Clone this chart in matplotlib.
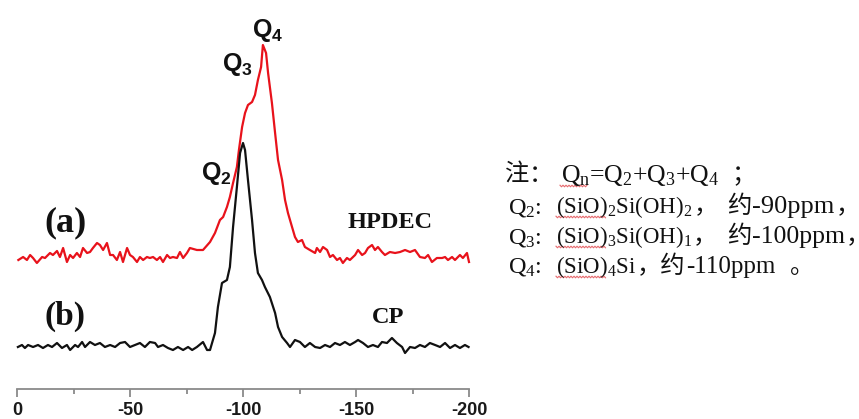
import matplotlib
matplotlib.use("Agg")
import matplotlib.pyplot as plt
from matplotlib.lines import Line2D
import numpy as np

plt.rcParams["mathtext.fontset"] = "custom"
plt.rcParams["mathtext.rm"] = "Liberation Serif"
plt.rcParams["mathtext.bf"] = "Liberation Sans:bold"
plt.rcParams["mathtext.default"] = "rm"

# 29Si NMR spectra, chemical shift in ppm
hpdec_ppm = [-0.6, -2.7, -4.4, -5.8, -7.1, -8.8, -11.1, -12.4, -14.6, -15.9, -17.7, -19.0,
             -20.4, -22.1, -23.5, -24.8, -26.5, -27.9, -29.2, -31.0, -32.3, -33.6, -35.4,
             -36.7, -38.1, -39.8, -41.2, -42.5, -44.2, -45.6, -46.9, -48.7, -50.0, -51.3,
             -53.1, -54.4, -55.8, -57.5, -58.8, -60.2, -61.9, -63.3, -64.6, -66.4, -67.7,
             -69.0, -70.8, -72.1, -73.5, -75.2,
             -76.5, -79.6, -82.3, -85.4, -87.6, -89.8, -91.2, -92.9, -94.2, -95.6, -97.3,
             -98.2, -99.6, -100.9, -102.2, -104.0, -105.3, -106.6, -108.0, -108.8, -110.2,
             -111.1, -112.8, -114.2, -115.5, -117.3, -118.6, -119.9, -121.7, -123.0, -124.3,
             -126.1, -127.4, -129.6, -131.9,
             -132.7, -134.1, -135.4, -137.2, -138.5, -139.8, -141.6, -142.9, -144.2, -146.0,
             -147.3, -149.6, -150.9, -152.7, -154.0, -155.3, -157.1, -158.4, -159.7, -161.5,
             -162.8, -165.0, -167.3, -169.5, -171.7, -173.9, -176.1, -178.3, -180.5, -181.9,
             -183.6, -185.8, -188.1, -189.4, -190.7, -192.5, -193.8, -196.0, -197.3, -199.1,
             -200.0]
hpdec_int = [0, 3, 0, 5, 2, -3, 3, 2, 7, 5, 9, 3,
             12, -2, 5, 2, 7, 3, 12, 7, 8, 12, 17,
             15, 10, 17, 5, 5, 0, 8, -2, 12, 5, 3,
             -2, 3, 0, 3, 2, 3, 0, 3, -2, 5, 2,
             3, 2, 8, 2, 7,
             12, 10, 10, 18, 27, 40, 43, 53, 63, 77, 93,
             110, 133, 147, 155, 158, 165, 180, 193, 215, 207,
             187, 157, 127, 100, 80, 60, 47, 33, 23, 18,
             20, 13, 10, 7,
             12, 8, 13, 10, 3, 5, 0, 2, -3, 2,
             0, 5, 10, 5, 7, 12, 15, 10, 13, 8,
             5, 8, 7, 8, 10, 8, 10, 3, 2, 5,
             -2, 2, 2, 3, 0, 3, 0, 5, 2, 7,
             -2]

cp_ppm = [-0.4, -2.2, -3.5, -4.9, -7.1, -9.3, -11.5, -13.7, -15.5, -17.7, -19.9, -22.1,
          -23.5, -25.7, -27.0, -28.8, -30.1, -32.3, -34.5, -36.7, -38.9, -41.2, -43.4,
          -45.6, -47.8, -50.0, -52.2, -54.4, -56.6, -58.8, -61.1, -62.4, -64.6, -66.8,
          -69.0, -71.2, -73.5, -75.7,
          -77.5, -79.6, -82.3, -84.1, -85.4, -87.6, -88.9, -90.7, -92.9, -94.2, -95.6,
          -97.3, -98.7, -100.0, -100.9, -102.2, -104.0, -105.3, -106.6, -108.4, -109.7,
          -111.9, -114.2, -115.5, -117.3, -119.5, -120.8, -123.0, -125.2, -127.4, -129.6,
          -131.9,
          -134.1, -136.3, -138.5, -140.7, -142.9, -145.1, -147.3, -149.6, -150.9, -153.1,
          -155.3, -157.5, -159.7, -161.5, -163.7, -165.9, -168.1, -170.4, -171.7, -173.9,
          -176.1, -178.3, -180.5, -182.7, -185.0, -187.2, -189.4, -191.6, -193.8, -196.0,
          -198.2, -199.8]
cp_int = [0, 2, -1, 2, 0, 2, -1, 2, 0, 4, -1, 2,
          -3, 2, 0, 5, 0, 5, 2, 4, 0, 2, 0,
          4, 5, 0, 2, 4, 0, 5, 4, 0, 2, -1,
          -3, 0, -3, 0,
          -3, 0, 5, -3, -3, 14, 40, 64, 67, 80, 120,
          160, 194, 204, 197, 167, 127, 94, 74, 67, 60,
          50, 34, 20, 10, 4, 0, 7, 5, 0, 4,
          0,
          -1, 2, 0, 4, 2, 5, 2, 5, 7, 4,
          0, 2, 0, 5, 4, 9, 4, 0, -6, 0,
          -1, 2, 0, 4, 2, 0, 4, -1, 2, -1,
          2, 0]

major_ticks = [0, -50, -100, -150, -200]
minor_ticks = [-25, -75, -125, -175]
tick_labels = ["0", "-50", "-100", "-150", "-200"]

# note lines as pieces of text; "L" = Latin (mathtext subscripts), "C" = Chinese
note_lines = [
    [("注", "C"), ("：", "C"), ("Q$_n$=Q$_2$+Q$_3$+Q$_4$", "L"), ("；", "C")],
    [("Q$_2$:", "L"), ("(SiO)$_2$Si(OH)$_2$", "L"), ("，", "C"), ("约", "C"),
     ("-90ppm", "L"), ("，", "C")],
    [("Q$_3$:", "L"), ("(SiO)$_3$Si(OH)$_1$", "L"), ("，", "C"), ("约", "C"),
     ("-100ppm", "L"), ("，", "C")],
    [("Q$_4$:", "L"), ("(SiO)$_4$Si", "L"), ("，约", "C"),
     ("-110ppm", "L"), ("。", "C")],
]

W, H = 859, 419
fig = plt.figure(figsize=(W / 100, H / 100), dpi=100)
renderer = fig.canvas.get_renderer()


def fx(px):
    return px / W


def fy(py):
    return 1 - py / H


ax = fig.add_axes([fx(17), fy(389), fx(469) - fx(17), fy(0) - fy(389)])
ax.set_xlim(0, -200)
ax.set_ylim(0, 389)

hpdec_offset = 129
cp_offset = 42
ax.plot(hpdec_ppm, np.array(hpdec_int) + hpdec_offset, color="#e8121b", lw=1.6,
        solid_joinstyle="round", clip_on=False)
ax.plot(cp_ppm, np.array(cp_int) + cp_offset, color="#111111", lw=1.6,
        solid_joinstyle="round", clip_on=False)

for s in ("left", "right", "top"):
    ax.spines[s].set_visible(False)
ax.spines["bottom"].set_color("#8a8a8a")
ax.spines["bottom"].set_linewidth(1.3)
ax.set_yticks([])
ax.set_xticks(major_ticks)
ax.set_xticklabels(tick_labels)
ax.set_xticks(minor_ticks, minor=True)
ax.tick_params(axis="x", which="major", direction="out", length=6, width=1.3,
               color="#8a8a8a", pad=3, labelsize=13, labelcolor="#1a1a1a")
ax.tick_params(axis="x", which="minor", direction="out", length=3.5, width=1.3,
               color="#8a8a8a")
for lab in ax.get_xticklabels():
    lab.set_fontfamily("Liberation Sans")
    lab.set_fontweight("bold")

# peak labels
qkw = dict(fontsize=18, ha="left", va="baseline", color="#111111")
fig.text(fx(201), fy(180), r"$\mathbf{Q_2}$", **qkw)
fig.text(fx(222), fy(71), r"$\mathbf{Q_3}$", **qkw)
fig.text(fx(252), fy(37), r"$\mathbf{Q_4}$", **qkw)

# spectrum labels
serif_b = dict(family="Liberation Serif", fontweight="bold", color="#111111", va="center")
fig.text(fx(44), fy(223), "(a)", fontsize=26, ha="left", **serif_b)
fig.text(fx(44), fy(316), "(b)", fontsize=24, ha="left", **serif_b)
fig.text(fx(348), fy(222), "HPDEC", fontsize=17.5, ha="left", **serif_b)
fig.text(fx(372), fy(317), "CP", fontsize=17.5, ha="left", **serif_b)

# notes: each piece starts at a fixed pixel x, or (None) right after the previous piece
note_x = [
    [505, 529, 561, 731],
    [508, 556, None, 727, 752, None],
    [508, 556, None, 727, 752, None],
    [508, 556, None, None, 790],
]
note_size = [
    [17.5, 17.5, 18.5, 17.5],
    [17.5, 16.5, 17.5, 17.5, 19, 17.5],
    [17.5, 16.5, 17.5, 17.5, 18.6, 17.5],
    [17.5, 16.5, 17.5, 18, 17.5],
]
note_base = [182, 213, 243, 273]
for pieces, xs, sizes, yb in zip(note_lines, note_x, note_size, note_base):
    cursor = 0
    for (s, kind), x, size in zip(pieces, xs, sizes):
        fam = "Liberation Serif" if kind == "L" else "Noto Sans CJK SC"
        x = cursor + 1 if x is None else x
        t = fig.text(fx(x), fy(yb), s, fontsize=size, family=fam, color="#111111",
                     ha="left", va="baseline")
        cursor = x + t.get_window_extent(renderer).width

# spell-checker squiggles under the flagged words
squiggle_spans = [(560, 588), (556, 606), (556, 606), (556, 606)]
for (x0, x1), yb in zip(squiggle_spans, note_base):
    xs = np.arange(x0, x1, 1.5)
    ys = yb + 4 + np.where(np.arange(len(xs)) % 2 == 0, -0.8, 0.8)
    fig.add_artist(Line2D(fx(xs), fy(ys), color="#e0454a", lw=0.8, alpha=0.8))

fig.savefig("out.png", dpi=100)
